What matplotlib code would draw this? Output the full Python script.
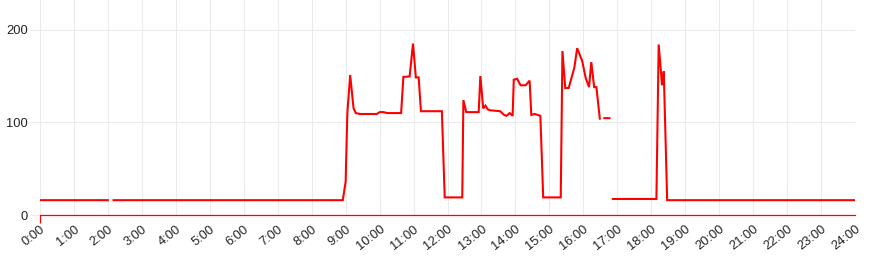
import numpy as np
import matplotlib.pyplot as plt

# --- data (time of day, value); None = gap ---
times = ["0:00", "2:00", "2:05", "2:10", "8:55", "9:00", "9:03", "9:08", "9:14", "9:18",
         "9:25", "9:55", "10:00", "10:07", "10:13", "10:38", "10:42", "10:53", "10:59", "11:04",
         "11:09", "11:13", "11:50", "11:55", "12:26", "12:28", "12:33", "12:55", "12:58", "13:03",
         "13:07", "13:11", "13:15", "13:33", "13:40", "13:44", "13:50", "13:55", "13:57", "14:03",
         "14:09", "14:18", "14:25", "14:28", "14:34", "14:44", "14:49", "15:20", "15:23", "15:28",
         "15:34", "15:44", "15:49", "15:58", "16:04", "16:10", "16:14", "16:19", "16:23", "16:29",
         "16:33", "16:37", "16:46", "16:49", "16:52", "18:09", "18:13", "18:19", "18:22", "18:28",
         "24:00"]
values = [16, 16, None, 16, 16, 36, 110, 151, 115, 110,
          109, 109, 111, 111, 110, 110, 149, 149.5, 185, 148.5,
          148.5, 112, 112, 19, 19, 124, 111, 111, 150, 115,
          118, 114, 113, 112, 108, 107, 110, 107, 146, 147,
          140, 140, 145, 108, 109, 107, 19, 19, 177, 137,
          137, 159, 180, 166, 148, 138, 165, 138, 138, 104,
          None, 104.5, 104.5, None, 17.3, 17.3, 184, 140, 155, 16,
          16]
hour_labels = [f"{h}:00" for h in range(25)]
y_ticks = [0, 100, 200]


def to_hours(t):
    h, m = t.split(":")
    return int(h) + int(m) / 60


x = np.array([to_hours(t) for t in times])
y = np.array([np.nan if v is None else v for v in values], dtype=float)

fig = plt.figure(figsize=(8.69, 2.57), dpi=100)
ax = fig.add_axes([0.046, 0.1634, 0.938, 0.8366])

ax.plot(x, y, color="#ff0000", linewidth=1.5, solid_joinstyle="miter")

ax.set_xlim(0, 24)
ax.set_ylim(0, 232)
ax.set_xticks(range(25))
ax.set_xticklabels(hour_labels, rotation=38, ha="right", rotation_mode="anchor",
                   fontsize=9.3, color="#222222", family="Liberation Sans")
ax.set_yticks(y_ticks)
ax.set_yticklabels([str(v) for v in y_ticks], fontsize=9.3, color="#222222",
                   family="Liberation Sans")

ax.grid(True, color="#ebebeb", linewidth=0.75)
ax.set_axisbelow(True)
for side in ["top", "right", "left"]:
    ax.spines[side].set_visible(False)
ax.spines["bottom"].set_color("#ff0000")
ax.spines["bottom"].set_linewidth(0.9)

ax.tick_params(axis="y", length=7.5, width=0.75, color="#ebebeb", pad=1)
ax.tick_params(axis="x", length=6, width=0.9, color="#ff0000", pad=0)
# only the 0:00 tick mark is drawn in the reference
for i, tick in enumerate(ax.xaxis.get_major_ticks()):
    if i > 0:
        tick.tick1line.set_visible(False)

fig.savefig("out.png", dpi=100)
